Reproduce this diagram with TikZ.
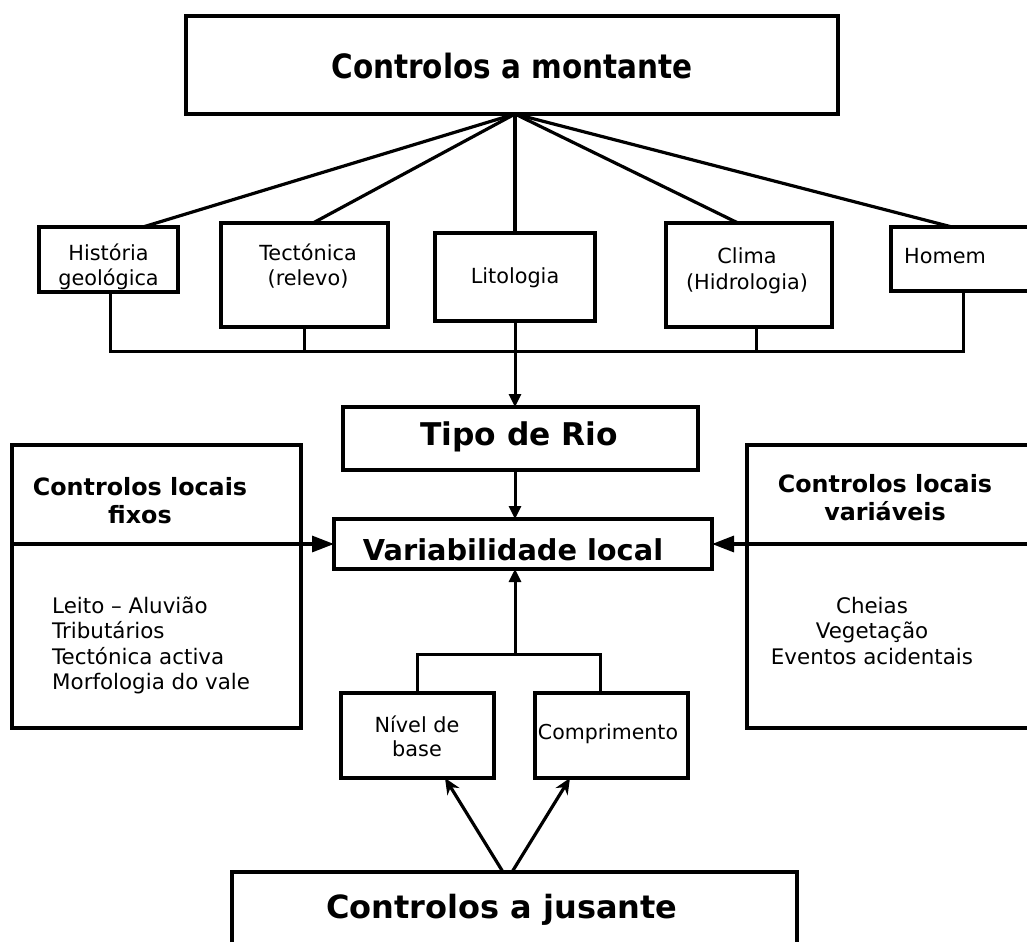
\documentclass[tikz,border=0pt]{standalone}
\usepackage{fontspec}
\setmainfont{DejaVu Sans}
\newfontfamily\condfont[FakeStretch=0.88]{DejaVu Sans}
\usetikzlibrary{arrows.meta}
\begin{document}
\begin{tikzpicture}[x=1pt,y=-1pt,
  box/.style={draw, line width=3.2pt, rectangle, inner sep=0pt, outer sep=0pt},
  openbox/.style={draw=none, rectangle, inner sep=0pt, outer sep=0pt},
  edge3/.style={line width=3.2pt, line join=miter},
  conn/.style={line width=3.2pt},
  bus/.style={line width=3pt},
  lbl/.style={anchor=base, inner sep=0pt, font=\fontsize{20.8}{24}\selectfont},
  lst/.style={anchor=base, inner sep=0pt, font=\fontsize{21.4}{24}\selectfont},
  sub/.style={anchor=base, inner sep=0pt, font=\fontsize{23.8}{26}\selectfont\bfseries},
  bigarrow/.style={-{Triangle[length=22pt,width=16pt]}},
  smallarrow/.style={-{Triangle[length=13pt,width=12pt]}},
  upwarrow/.style={-{Stealth[length=16pt,width=14pt]}}
]
\useasboundingbox (0,0) rectangle (1027,942);

% ---- top box
\node[box, minimum width=652pt, minimum height=98pt] (top) at (512,65) {};
\node[anchor=base, inner sep=0pt, font=\condfont\fontsize{33.5}{36}\selectfont\bfseries] (topT) at (512,78) {Controlos a montante};

% ---- row of controls
\node[box, minimum width=139pt, minimum height=65pt] (hist) at (108.5,259.5) {};
\node[lbl] (histA) at (108.5,260) {História};
\node[lbl] (histB) at (108.5,285) {geológica};

\node[box, minimum width=167pt, minimum height=104pt] (tect) at (304.5,275) {};
\node[lbl] (tectA) at (308,260) {Tectónica};
\node[lbl] (tectB) at (308,285.5) {(relevo)};

\node[box, minimum width=160pt, minimum height=88pt] (lito) at (515,277) {};
\node[lbl] (litoA) at (515,283) {Litologia};

\node[box, minimum width=166pt, minimum height=104pt] (clima) at (749,275) {};
\node[lbl] (climaA) at (747,263) {Clima};
\node[lbl] (climaB) at (747,289) {(Hidrologia)};

\node[openbox, minimum width=136pt, minimum height=64pt] (homem) at (959,259) {};
\draw[edge3] (homem.north east) -- (homem.north west) -- (homem.south west) -- (homem.south east);
\node[lbl] (homemA) at (945,263) {Homem};

% ---- fan from top box
\coordinate (apex) at (515,114);
\draw[conn] (apex) -- ([xshift=34.5pt]hist.north);
\draw[conn] (apex) -- ([xshift=8.5pt]tect.north);
\draw[conn] (apex) -- (lito.north);
\draw[conn] (apex) -- ([xshift=-11pt]clima.north);
\draw[conn] (apex) -- ([xshift=-7pt]homem.north);

% ---- collecting bus
\coordinate (busy) at (515,351);
\draw[bus] ([xshift=1.5pt]hist.south) |- (busy) -| ([xshift=4pt]homem.south);
\draw[bus] (tect.south) -- (tect.south |- busy);
\draw[bus] ([xshift=7pt]clima.south) -- ([xshift=7pt]clima.south |- busy);

% ---- Tipo de Rio
\node[box, minimum width=355pt, minimum height=63pt] (tipo) at (520.5,438.5) {};
\node[anchor=base, inner sep=0pt, font=\fontsize{31.3}{34}\selectfont\bfseries] (tipoT) at (519,445) {Tipo de Rio};
\draw[bus, smallarrow] (lito.south) -- (lito.south |- tipo.north);

% ---- Variabilidade local
\node[box, minimum width=378pt, minimum height=50pt] (var) at (523,544) {};
\node[anchor=base, inner sep=0pt, font=\fontsize{28.8}{30}\selectfont\bfseries] (varT) at (513,560) {Variabilidade local};
\draw[bus, smallarrow] (tipo.south -| lito.south) -- (var.north -| lito.south);

% ---- left box
\node[box, minimum width=289pt, minimum height=283pt] (lbox) at (156.5,586.5) {};
\node[sub] (lboxA) at (140,495) {Controlos locais};
\node[sub] (lboxB) at (140,523) {fixos};
\node[lst, anchor=base west] (l1) at (52,613) {Leito – Aluvião};
\node[lst, anchor=base west] (l2) at (52,638.5) {Tributários};
\node[lst, anchor=base west] (l3) at (52,664) {Tectónica activa};
\node[lst, anchor=base west] (l4) at (52,689.5) {Morfologia do vale};
\draw[conn, bigarrow] (lbox.west |- var.west) -- (var.west);

% ---- right box
\node[openbox, minimum width=280pt, minimum height=283pt] (rbox) at (887,586.5) {};
\draw[edge3] (rbox.north east) -- (rbox.north west) -- (rbox.south west) -- (rbox.south east);
\node[sub] (rboxA) at (885,492) {Controlos locais};
\node[sub] (rboxB) at (885,520) {variáveis};
\node[lst] (r1) at (872,613) {Cheias};
\node[lst] (r2) at (872,638.5) {Vegetação};
\node[lst] (r3) at (872,664) {Eventos acidentais};
\draw[conn, bigarrow] (rbox.east |- var.east) -- (var.east);

% ---- downstream factors
\node[box, minimum width=153pt, minimum height=85pt] (nivel) at (417.5,735.5) {};
\node[lbl] (nivelA) at (417,732) {Nível de};
\node[lbl] (nivelB) at (417,756) {base};
\node[box, minimum width=153pt, minimum height=85pt] (comp) at (611.5,735.5) {};
\node[lbl, font=\fontsize{20.5}{24}\selectfont] (compA) at (608,739) {Comprimento};

\coordinate (junc) at (515,654);
\draw[bus, smallarrow] (junc) -- (junc |- var.south);
\draw[bus] (nivel.north) |- (junc) -| ([xshift=-11.5pt]comp.north);

% ---- bottom box
\node[openbox, minimum width=565pt, minimum height=70pt] (jus) at (514.5,907) {};
\draw[edge3] (jus.south west) -- (jus.north west) -- (jus.north east) -- (jus.south east);
\node[anchor=base, inner sep=0pt, font=\fontsize{32}{34}\selectfont\bfseries] (jusT) at (502,918) {Controlos a jusante};

\draw[conn, upwarrow] ([xshift=-11.5pt]jus.north) -- ([xshift=27.5pt]nivel.south);
\draw[conn, upwarrow] ([xshift=-2.5pt]jus.north) -- ([xshift=-41.5pt]comp.south);

\end{tikzpicture}
\end{document}
